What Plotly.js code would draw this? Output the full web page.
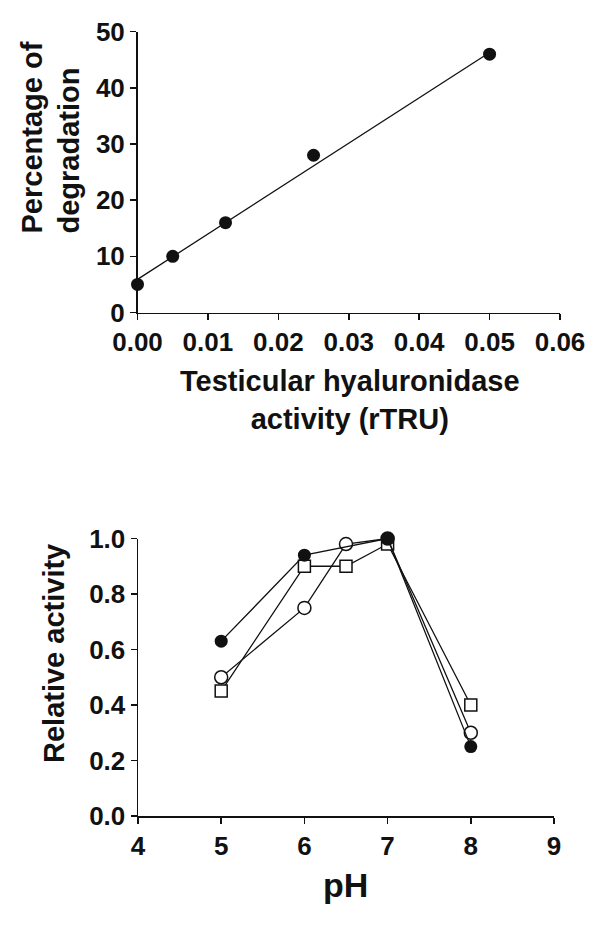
<!DOCTYPE html>
<html>
<head>
<meta charset="utf-8">
<script src="https://cdn.plot.ly/plotly-3.0.1.min.js"></script>
<style>
  html, body { margin: 0; padding: 0; background: #fff; }
  #chart { width: 600px; height: 925px; }
</style>
</head>
<body>
<div id="chart"></div>
<script>
// top panel: degradation vs testicular hyaluronidase
const activityX = [0, 0.005, 0.0125, 0.025, 0.05];
const degradationY = [5, 10, 16, 28, 46];
const fitX = [0, 0.05];
const fitY = [5.9, 46.3];

// bottom panel: relative activity vs pH
const phFilled = [5, 6, 7, 8];
const relFilled = [0.63, 0.94, 1.0, 0.25];
const phCircle = [5, 6, 6.5, 7, 8];
const relCircle = [0.50, 0.75, 0.98, 1.0, 0.30];
const phSquare = [5, 6, 6.5, 7, 8];
const relSquare = [0.45, 0.90, 0.90, 0.98, 0.40];

const W = 600, H = 925;
const px = x => x / W;
const py = y => 1 - y / H;

const font = 'Liberation Sans, Arial, sans-serif';
const ink = '#111';

const traces = [
  { x: fitX, y: fitY, mode: 'lines', line: { color: ink, width: 1.3 }, xaxis: 'x', yaxis: 'y', hoverinfo: 'skip' },
  { x: activityX, y: degradationY, mode: 'markers', cliponaxis: false,
    marker: { symbol: 'circle', size: 13, color: ink }, xaxis: 'x', yaxis: 'y' },

  { x: phSquare, y: relSquare, mode: 'lines+markers', cliponaxis: false,
    line: { color: ink, width: 1.3 },
    marker: { symbol: 'square', size: 12, color: '#fff', line: { color: ink, width: 1.5 } },
    xaxis: 'x2', yaxis: 'y2' },
  { x: phCircle, y: relCircle, mode: 'lines+markers', cliponaxis: false,
    line: { color: ink, width: 1.3 },
    marker: { symbol: 'circle', size: 13, color: '#fff', line: { color: ink, width: 1.5 } },
    xaxis: 'x2', yaxis: 'y2' },
  { x: phFilled, y: relFilled, mode: 'lines+markers', cliponaxis: false,
    line: { color: ink, width: 1.3 },
    marker: { symbol: 'circle', size: 13, color: ink },
    xaxis: 'x2', yaxis: 'y2' }
];

const axisBase = {
  showline: true, linecolor: ink, linewidth: 1.5,
  ticks: 'outside', ticklen: 6, tickwidth: 1.5, tickcolor: ink,
  showgrid: false, zeroline: false, fixedrange: true,
  tickfont: { family: font, size: 26, color: ink, weight: 'bold' }
};

const titleFont = size => ({ family: font, size: size, color: ink, weight: 'bold' });

const layout = {
  width: W, height: H,
  margin: { l: 0, r: 0, t: 0, b: 0 },
  paper_bgcolor: '#fff', plot_bgcolor: '#fff',
  showlegend: false,
  font: { family: font, color: ink },
  xaxis: Object.assign({}, axisBase, {
    domain: [px(137.5), px(560)], range: [0, 0.06], dtick: 0.01, tickformat: '.2f', anchor: 'y'
  }),
  yaxis: Object.assign({}, axisBase, {
    domain: [py(312.5), py(31.7)], range: [0, 50], dtick: 10, anchor: 'x'
  }),
  xaxis2: Object.assign({}, axisBase, {
    domain: [px(138), px(554)], range: [4, 9], dtick: 1, anchor: 'y2'
  }),
  yaxis2: Object.assign({}, axisBase, {
    domain: [py(816), py(538.5)], range: [0, 1.0], dtick: 0.2, tickformat: '.1f', anchor: 'x2'
  }),
  annotations: [
    { text: 'Percentage of<br>degradation', xref: 'paper', yref: 'paper',
      x: px(50), y: py(137.5), xanchor: 'center', yanchor: 'middle', align: 'left',
      textangle: -90, showarrow: false, font: titleFont(29) },
    { text: 'Testicular hyaluronidase<br>activity (rTRU)', xref: 'paper', yref: 'paper',
      x: px(350), y: py(400), xanchor: 'center', yanchor: 'middle',
      showarrow: false, font: titleFont(29) },
    { text: 'Relative activity', xref: 'paper', yref: 'paper',
      x: px(54), y: py(654), xanchor: 'center', yanchor: 'middle',
      textangle: -90, showarrow: false, font: titleFont(29) },
    { text: 'pH', xref: 'paper', yref: 'paper',
      x: px(345), y: py(885), xanchor: 'center', yanchor: 'middle',
      showarrow: false, font: titleFont(34) }
  ]
};

Plotly.newPlot('chart', traces, layout, { displayModeBar: false, staticPlot: true });
</script>
</body>
</html>
